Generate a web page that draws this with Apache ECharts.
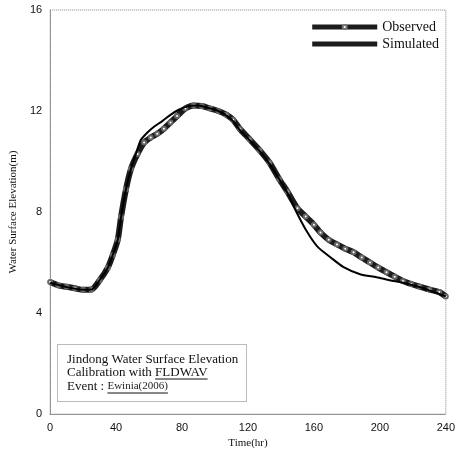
<!DOCTYPE html>
<html><head><meta charset="utf-8">
<script src="https://cdn.jsdelivr.net/npm/echarts@6/dist/echarts.min.js"></script>
<style>html,body{margin:0;padding:0;background:#fff}#c{width:458px;height:454px}</style>
</head><body><div id="c"></div>
<script>
const obsTime  = [0,5,10,15,20,25,30,35,38,41,43,46,49,53,57,61,65,69,73,77,82,87,92,97,102,107,111,115,121,127,133,139,144,150,155,160,164,169,174,179,184,189,194,199,204,209,214,219,224,230,236,240];
const obsLevel = [5.23,5.1,5.04,4.98,4.92,4.93,5.3,5.8,6.3,6.9,7.8,8.9,9.7,10.3,10.75,10.95,11.1,11.3,11.55,11.8,12.1,12.22,12.2,12.1,12.0,11.85,11.65,11.3,10.88,10.45,9.96,9.3,8.8,8.15,7.82,7.5,7.19,6.9,6.72,6.55,6.41,6.2,6.0,5.8,5.62,5.44,5.27,5.15,5.05,4.93,4.83,4.66];
const simTime  = [0,10,20,25,30,35,38,41,43,46,49,52,55,59,63,68,73,78,84,90,96,102,107,111,115,121,127,133,139,144,149,155,162,170,178,188,198,206,214,224,232,240];
const simLevel = [5.2,5.03,4.92,4.93,5.3,5.8,6.3,6.9,7.8,8.9,9.7,10.3,10.85,11.15,11.38,11.6,11.85,12.05,12.2,12.22,12.12,12.0,11.82,11.6,11.25,10.85,10.42,9.92,9.3,8.75,8.05,7.31,6.64,6.21,5.82,5.54,5.42,5.3,5.2,5.03,4.85,4.66];
const xTicks = [0,40,80,120,160,200,240];
const yTicks = [0,4,8,12,16];

const obs = obsTime.map((t,i)=>[t,obsLevel[i]]);
const sim = simTime.map((t,i)=>[t,simLevel[i]]);
const chart = echarts.init(document.getElementById('c'));
const serif = '"Liberation Serif","Times New Roman",serif';
const sans = '"Liberation Sans",Arial,sans-serif';

const cv = document.createElement('canvas').getContext('2d');
cv.font = '13px ' + serif;
const w = s => cv.measureText(s).width;
const bx = 67, l1 = 353, l2 = 366, l3 = 380;
const xF = bx + w('Calibration with ');
const wF = w('FLDWAV');
const xE = bx + w('Event : ');
cv.font = '11px ' + serif;
const wE = cv.measureText('Ewinia(2006)').width;

chart.setOption({
  animation:false,
  backgroundColor:'#fff',
  grid:{left:48,right:8,top:10,bottom:38,show:true,borderColor:'#888',borderWidth:1,borderType:'dotted'},
  xAxis:{type:'value',min:0,max:240,interval:40,
    name:'Time(hr)',nameLocation:'middle',nameGap:20,
    nameTextStyle:{fontFamily:serif,fontSize:11,color:'#111'},
    axisLine:{show:true,lineStyle:{color:'#888',type:'dotted'}},
    axisTick:{show:false},splitLine:{show:false},
    axisLabel:{fontFamily:sans,fontSize:11,color:'#111',margin:8,
      formatter:v=>xTicks.includes(v)?String(v):''}},
  yAxis:{type:'value',min:0,max:16,interval:4,
    name:'Water Surface Elevation(m)',nameLocation:'middle',nameGap:30,
    nameTextStyle:{fontFamily:serif,fontSize:11,color:'#111'},
    axisLine:{show:true,lineStyle:{color:'#888',type:'dotted'}},
    axisTick:{show:false},splitLine:{show:false},
    axisLabel:{fontFamily:sans,fontSize:11,color:'#111',margin:8,
      formatter:v=>yTicks.includes(v)?String(v):''}},
  legend:{right:14,top:15,orient:'vertical',itemWidth:65,itemHeight:5,itemGap:3,
    textStyle:{fontFamily:serif,fontSize:14,color:'#111'},
    data:[
      {name:'Observed',lineStyle:{width:5,color:'#1c1c1c'},itemStyle:{color:'#777',borderColor:'#333'}},
      {name:'Simulated',icon:'rect',itemStyle:{color:'#1c1c1c'}}
    ]},
  series:[
    {name:'Observed',type:'line',data:obs,smooth:0.25,
      lineStyle:{width:6,color:'#1c1c1c'},
      symbol:'emptyCircle',symbolSize:4,
      itemStyle:{color:'#666',borderColor:'#555',borderWidth:1},z:2},
    {name:'Simulated',type:'line',data:sim,smooth:0.25,showSymbol:false,symbol:'none',
      lineStyle:{width:2,color:'#000'},itemStyle:{color:'#000'},z:3}
  ],
  graphic:[
    {type:'rect',left:57,top:344,shape:{width:189,height:57},
      style:{fill:'#fff',stroke:'#777',lineWidth:1,lineDash:[1,1]}},
    {type:'text',x:bx,y:l1,style:{text:'Jindong Water Surface Elevation',font:'13px '+serif,fill:'#111'}},
    {type:'text',x:bx,y:l2,style:{text:'Calibration with FLDWAV',font:'13px '+serif,fill:'#111'}},
    {type:'text',x:bx,y:l3,style:{text:'Event : ',font:'13px '+serif,fill:'#111'}},
    {type:'text',x:xE,y:l3+1,style:{text:'Ewinia(2006)',font:'11px '+serif,fill:'#222'}},
    {type:'line',shape:{x1:xF,y1:l2+13,x2:xF+wF,y2:l2+13},style:{stroke:'#111',lineWidth:1}},
    {type:'line',shape:{x1:xE,y1:l3+13,x2:xE+wE,y2:l3+13},style:{stroke:'#111',lineWidth:1}}
  ]
});
</script></body></html>
